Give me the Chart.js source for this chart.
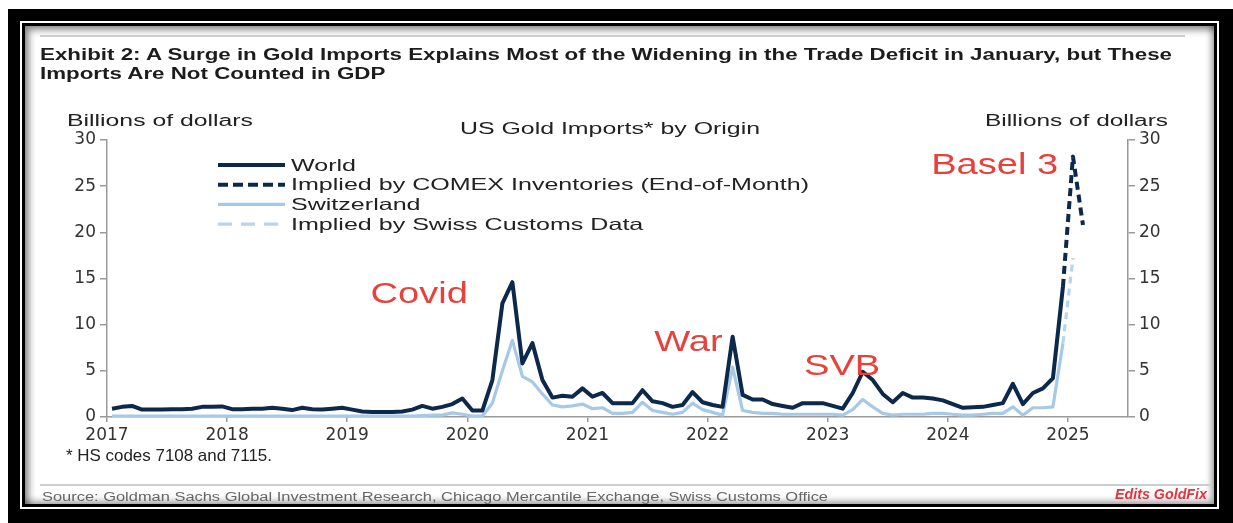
<!DOCTYPE html>
<html>
<head>
<meta charset="utf-8">
<script src="https://cdn.jsdelivr.net/npm/chart.js@4.4.0/dist/chart.umd.min.js"></script>
<style>
  html, body { margin: 0; padding: 0; background: #fff; }
  body { width: 1233px; height: 523px; position: relative; overflow: hidden; font-family: "Liberation Sans", Arial, sans-serif; }
  .box { position: absolute; }
  .frame { left: 8px; top: 9px; width: 1225px; height: 514px; background: #000; }
  .gap { left: 20px; top: 21px; width: 1199px; height: 488px; background: #fff; }
  .inner { left: 22px; top: 23px; width: 1195px; height: 484px; background: #000; }
  .content { left: 25px; top: 26px; width: 1189px; height: 478px; background: #fff;
             box-shadow: inset 4px 4px 7px rgba(0,0,0,0.45), inset -3px -3px 6px rgba(0,0,0,0.35); }
  .rule { position: absolute; height: 2px; background: #cdcdcd; }
  .txt { position: absolute; white-space: nowrap; transform-origin: 0 0; line-height: 1; color: #222; }
  #wrap { position: absolute; left: 0; top: 0; width: 1233px; height: 523px; }
</style>
</head>
<body>
<div class="box frame"></div>
<div class="box gap"></div>
<div class="box inner"></div>
<div class="box content"></div>
<div class="rule" style="left:40px; top:35px; width:1145px;"></div>
<div class="rule" style="left:40px; top:484px; width:1172px;"></div>

<div id="wrap"><canvas id="chart"></canvas></div>

<div class="txt" id="title1" style="left:40px; top:47px; font-size:16px; font-weight:bold; color:#1c1c1c;" data-w="1132">Exhibit 2: A Surge in Gold Imports Explains Most of the Widening in the Trade Deficit in January, but These</div>
<div class="txt" style="left:40px; top:66px; font-size:16px; font-weight:bold; color:#1c1c1c;" data-ref="title1">Imports Are Not Counted in GDP</div>
<div class="txt" style="left:67px; top:113px; font-size:16px;" data-w="186">Billions of dollars</div>
<div class="txt" style="left:985px; top:113px; font-size:16px;" data-w="183">Billions of dollars</div>
<div class="txt" style="left:460px; top:121px; font-size:16px;" data-w="300">US Gold Imports* by Origin</div>
<div class="txt" style="left:66px; top:447px; font-size:16.5px;" data-w="206">* HS codes 7108 and 7115.</div>
<div class="txt" style="left:42px; top:491px; font-size:12.5px; color:#666;" data-w="786">Source: Goldman Sachs Global Investment Research, Chicago Mercantile Exchange, Swiss Customs Office</div>
<div class="txt" style="left:1115px; top:487px; font-size:14.5px; font-weight:bold; font-style:italic; color:#e8313a;" data-w="92">Edits GoldFix</div>

<script>
// fit the stretched reference text to its measured width
document.querySelectorAll('.txt[data-w]').forEach(el => {
  const w = el.getBoundingClientRect().width;
  el.dataset.sx = el.dataset.w / w;
  el.style.transform = `scaleX(${el.dataset.sx})`;
});
document.querySelectorAll('.txt[data-ref]').forEach(el => {
  const ref = document.getElementById(el.dataset.ref);
  el.style.transform = `scaleX(${ref.dataset.sx})`;
});

// --- data (monthly, billions of dollars) ---
const firstYear = 2017; // World / Switzerland start in Jan 2017
const tickYears = [2017, 2018, 2019, 2020, 2021, 2022, 2023, 2024, 2025];

const worldValues = [
  0.9, 1.1, 1.2, 0.8, 0.8, 0.8, 0.85, 0.85, 0.9, 1.1, 1.1, 1.15,   // 2017
  0.85, 0.85, 0.9, 0.9, 1.0, 0.9, 0.75, 1.0, 0.85, 0.8, 0.9, 1.0,  // 2018
  0.8, 0.6, 0.55, 0.55, 0.55, 0.6, 0.8, 1.2, 0.9, 1.1, 1.4, 2.0,   // 2019
  0.7, 0.7, 4.0, 12.3, 14.6, 5.8, 8.0, 4.0, 2.1, 2.3, 2.2, 3.1,    // 2020
  2.2, 2.6, 1.5, 1.5, 1.5, 2.9, 1.7, 1.5, 1.1, 1.3, 2.7, 1.6,      // 2021
  1.3, 1.1, 8.7, 2.4, 1.9, 1.9, 1.4, 1.2, 1.0, 1.5, 1.5, 1.5,      // 2022
  1.2, 0.9, 2.6, 4.9, 4.0, 2.5, 1.6, 2.6, 2.1, 2.1, 2.0, 1.8,      // 2023
  1.4, 1.0, 1.05, 1.1, 1.3, 1.5, 3.6, 1.4, 2.6, 3.1, 4.2, 14.1     // 2024
];
const swissValues = [
  0.1, 0.1, 0.1, 0.1, 0.1, 0.1, 0.1, 0.1, 0.1, 0.1, 0.1, 0.1,      // 2017
  0.1, 0.1, 0.1, 0.1, 0.1, 0.1, 0.1, 0.1, 0.1, 0.1, 0.1, 0.1,      // 2018
  0.1, 0.1, 0.1, 0.1, 0.1, 0.1, 0.1, 0.15, 0.2, 0.2, 0.45, 0.3,    // 2019
  0.1, 0.1, 1.5, 5.0, 8.3, 4.4, 3.8, 2.5, 1.3, 1.1, 1.2, 1.4,      // 2020
  0.9, 1.0, 0.4, 0.4, 0.5, 1.6, 0.7, 0.5, 0.3, 0.5, 1.5, 0.8,      // 2021
  0.5, 0.2, 5.4, 0.7, 0.5, 0.4, 0.4, 0.3, 0.3, 0.3, 0.3, 0.3,      // 2022
  0.3, 0.2, 0.8, 1.9, 1.1, 0.4, 0.2, 0.3, 0.3, 0.3, 0.4, 0.4,      // 2023
  0.3, 0.2, 0.2, 0.3, 0.4, 0.4, 1.1, 0.2, 1.0, 1.0, 1.1, 8.0       // 2024
];
const comexMonths = ['2024-12', '2025-01', '2025-02'];
const comexValues = [14.1, 28.2, 20.8];
const customsMonths = ['2024-12', '2025-01'];
const customsValues = [8.0, 17.2];

const noteLabels = ['Covid', 'War', 'SVB', 'Basel 3'];
const noteYears = [2019.6, 2021.84, 2023.12, 2024.39];
const noteValues = [13.2, 8.0, 5.4, 27.2];

// month index -> decimal year (mid-month)
const monthX = i => firstYear + (i + 0.5) / 12;
const labelX = s => { const [y, m] = s.split('-').map(Number); return y + (m - 0.5) / 12; };

const navy = '#0c284b';
const lightBlue = '#a6c9e8';

const legendPlugin = {
  id: 'boxLegend',
  afterDraw(chart) {
    const ctx = chart.ctx;
    ctx.save();
    ctx.font = '16.5px "Liberation Sans", Arial, sans-serif';
    const longest = Math.max(...chart.data.datasets.map(d => ctx.measureText(d.label).width));
    const sx = 518 / longest;
    chart.data.datasets.forEach((ds, i) => {
      const y = 165 + i * 19.7;
      ctx.beginPath();
      ctx.setLineDash(ds.legendDash || []);
      ctx.lineWidth = ds.borderWidth;
      ctx.strokeStyle = ds.borderColor;
      ctx.moveTo(218, y);
      ctx.lineTo(285, y);
      ctx.stroke();
      ctx.setLineDash([]);
      ctx.save();
      ctx.translate(291, y);
      ctx.scale(sx, 1);
      ctx.fillStyle = '#222';
      ctx.textBaseline = 'middle';
      ctx.fillText(ds.label, 0, 1);
      ctx.restore();
    });
    ctx.restore();
  }
};

const notePlugin = {
  id: 'notes',
  afterDatasetsDraw(chart) {
    const ctx = chart.ctx;
    const xs = chart.scales.x, ys = chart.scales.y;
    ctx.save();
    ctx.font = '30px "Liberation Sans", Arial, sans-serif';
    ctx.fillStyle = '#e8413c';
    ctx.textBaseline = 'middle';
    ctx.textAlign = 'center';
    noteLabels.forEach((t, i) => {
      ctx.save();
      ctx.translate(xs.getPixelForValue(noteYears[i]), ys.getPixelForValue(noteValues[i]));
      ctx.scale(1.27, 1);
      ctx.fillText(t, 0, 0);
      ctx.restore();
    });
    ctx.restore();
  }
};

const tickFont = { family: '"DejaVu Sans", sans-serif', size: 17 };
const axisGray = '#9a9a9a';

new Chart(document.getElementById('chart'), {
  type: 'line',
  data: {
    datasets: [
      {
        label: 'World',
        data: worldValues.map((v, i) => ({ x: monthX(i), y: v })),
        borderColor: navy, borderWidth: 4
      },
      {
        label: 'Implied by COMEX Inventories (End-of-Month)',
        data: comexMonths.map((m, i) => ({ x: labelX(m), y: comexValues[i] })),
        borderColor: navy, borderWidth: 4, borderDash: [8, 5], legendDash: [10, 5]
      },
      {
        label: 'Switzerland',
        data: swissValues.map((v, i) => ({ x: monthX(i), y: v })),
        borderColor: lightBlue, borderWidth: 3.2
      },
      {
        label: 'Implied by Swiss Customs Data',
        data: customsMonths.map((m, i) => ({ x: labelX(m), y: customsValues[i] })),
        borderColor: '#b7d4ee', borderWidth: 3.2, borderDash: [7, 5], legendDash: [14, 9]
      }
    ]
  },
  options: {
    responsive: true,
    maintainAspectRatio: false,
    animation: false,
    devicePixelRatio: 1,
    layout: { padding: { left: 0, right: 0, top: 140, bottom: 0 } },
    elements: { point: { radius: 0 }, line: { tension: 0, borderJoinStyle: 'round' } },
    plugins: { legend: { display: false }, tooltip: { enabled: false } },
    scales: {
      x: {
        type: 'linear', min: 2017, max: 2025.5,
        afterFit: s => { s.height = 106; },
        grid: { drawOnChartArea: false, drawTicks: true, tickLength: 5, color: axisGray, lineWidth: 1.5 },
        border: { color: axisGray, width: 1.5 },
        ticks: {
          stepSize: 1, includeBounds: false, maxRotation: 0, autoSkip: false,
          color: '#333', font: tickFont, padding: 3,
          callback: v => tickYears.includes(v) ? String(v) : ''
        }
      },
      y: {
        position: 'left', min: 0, max: 30,
        afterFit: s => { s.width = 107; },
        grid: { drawOnChartArea: false, drawTicks: true, tickLength: 7, color: axisGray, lineWidth: 1.5 },
        border: { color: axisGray, width: 1.5 },
        ticks: { stepSize: 5, color: '#333', font: tickFont, padding: 4 }
      },
      y2: {
        position: 'right', min: 0, max: 30,
        afterFit: s => { s.width = 105; },
        grid: { drawOnChartArea: false, drawTicks: true, tickLength: 7, color: axisGray, lineWidth: 1.5 },
        border: { color: axisGray, width: 1.5 },
        ticks: { stepSize: 5, color: '#333', font: tickFont, padding: 4 }
      }
    }
  },
  plugins: [notePlugin, legendPlugin]
});
</script>
</body>
</html>
